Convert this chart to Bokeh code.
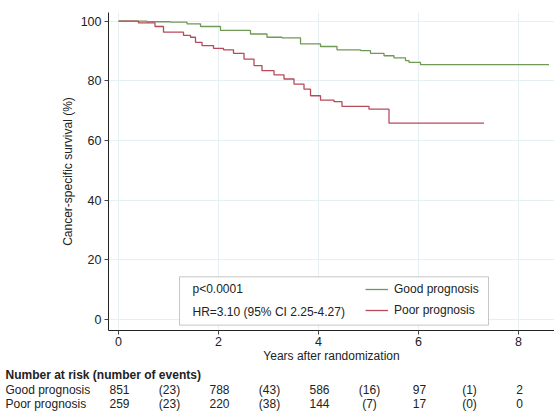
from bokeh.plotting import figure
from bokeh.models import Range1d, FixedTicker, Label, BoxAnnotation, Legend, LegendItem
from bokeh.layouts import column, row
from bokeh.core.properties import value
from bokeh.embed import file_html
from bokeh.resources import INLINE

# ---- data ----
good_t = [0, 0.57, 1.04, 1.37, 1.64, 2.04, 2.64, 2.97, 3.27, 3.64, 4.04, 4.37, 4.84, 5.04, 5.31, 5.51, 5.74, 5.81, 6.04, 8.61]
good_s = [100, 99.8, 99.7, 99.1, 98.2, 96.9, 95.7, 94.6, 94.4, 92.4, 91.5, 90.4, 90.1, 89.2, 88.4, 87.7, 86.8, 86.2, 85.4, 85.4]
poor_t = [0, 0.40, 0.73, 0.90, 1.30, 1.44, 1.54, 1.67, 1.90, 2.10, 2.30, 2.51, 2.71, 2.87, 3.11, 3.31, 3.51, 3.71, 3.84, 4.04, 4.31, 4.47, 5.01, 5.41, 7.31]
poor_s = [100, 99.4, 98.2, 96.3, 95.2, 94.6, 92.9, 91.8, 90.9, 90.4, 89.2, 87.3, 85.1, 83.4, 82.0, 80.6, 78.9, 77.2, 75.0, 73.5, 73.0, 71.4, 70.5, 65.8, 65.8]

x_ticks = [0, 2, 4, 6, 8]
y_ticks = [0, 20, 40, 60, 80, 100]

groups = ["Good prognosis", "Poor prognosis"]
risk_years = [0, 2, 4, 6, 8]
event_years = [1, 3, 5, 7]
good_risk = ["851", "788", "586", "97", "2"]
good_events = ["(23)", "(43)", "(16)", "(1)"]
poor_risk = ["259", "220", "144", "17", "0"]
poor_events = ["(23)", "(38)", "(7)", "(0)"]

p_text = "p<0.0001"
hr_text = "HR=3.10 (95% CI 2.25-4.27)"

GREEN = "#6f9a55"
RED = "#b84a5a"
TXT = "#222222"
FONT = "Liberation Sans"

p = figure(width=554, height=368, output_backend="svg", toolbar_location=None,
           x_range=Range1d(-0.2, 8.72), y_range=Range1d(-3.7, 102.9),
           min_border_left=108, min_border_right=0, min_border_top=12, min_border_bottom=38)
p.outline_line_color = None
p.background_fill_color = "white"
p.border_fill_color = "white"

for ax in (p.xaxis[0], p.yaxis[0]):
    ax.axis_line_color = "#222222"
    ax.major_tick_line_color = "#444444"
    ax.major_tick_in = 0
    ax.major_tick_out = 4
    ax.minor_tick_line_color = None
    ax.major_label_text_font = FONT
    ax.major_label_text_font_size = "12.5px"
    ax.major_label_text_color = TXT
    ax.axis_label_text_font = FONT
    ax.axis_label_text_font_size = "12px"
    ax.axis_label_text_font_style = "normal"
    ax.axis_label_text_color = TXT

p.xaxis.ticker = FixedTicker(ticks=x_ticks)
p.yaxis.ticker = FixedTicker(ticks=y_ticks)
p.xaxis.axis_label = "Years after randomization"
p.yaxis.axis_label = "Cancer-specific survival (%)"
p.xaxis.major_label_standoff = 2
p.xaxis.axis_label_standoff = 0
p.yaxis.major_label_standoff = 3
p.yaxis.axis_label_standoff = 3

p.xgrid.grid_line_color = "#e6f0f2"
p.ygrid.grid_line_color = "#e6f0f2"

r_good = p.step(good_t, good_s, mode="after", line_color=GREEN, line_width=1.3)
r_poor = p.step(poor_t, poor_s, mode="after", line_color=RED, line_width=1.3)

# legend box
box = BoxAnnotation(left=1.22, right=7.4, bottom=-1.9, top=14.3,
                    fill_color="white", fill_alpha=1, line_color="#444444", line_width=1)
p.add_layout(box)

legend = Legend(items=[LegendItem(label=groups[0], renderers=[r_good]),
                       LegendItem(label=groups[1], renderers=[r_poor])],
                location=(257, 10), orientation="vertical",
                border_line_color=None, background_fill_alpha=0,
                padding=0, margin=0, spacing=1,
                label_height=20, glyph_height=20, glyph_width=23, label_standoff=6,
                label_text_font=FONT, label_text_font_size="12px", label_text_color=TXT)
p.add_layout(legend)

p.add_layout(Label(x=1.48, y=100 - (287 - 20.7) / 2.967, text=p_text, text_font=FONT,
                   text_font_size="12px", text_color=TXT, text_baseline="middle"))
p.add_layout(Label(x=1.48, y=100 - (310 - 20.7) / 2.967, text=hr_text, text_font=FONT,
                   text_font_size="12px", text_color=TXT, text_baseline="middle"))

# ---- risk table (second figure, same x scale) ----
t = figure(width=554, height=44, output_backend="svg", toolbar_location=None,
           x_range=Range1d(-118 / 50, 8.72), y_range=Range1d(44, 0),
           x_axis_location=None, y_axis_location=None,
           min_border_left=0, min_border_right=0, min_border_top=0, min_border_bottom=0)
t.grid.visible = False
t.outline_line_color = None
t.border_fill_color = "white"

lab_x = (5 - 118) / 50
t.text(x=[lab_x], y=[6], text=["Number at risk (number of events)"], text_font=value(FONT),
       text_font_size="12px", text_font_style="bold", text_color=TXT, text_baseline="middle")
row_y = [21, 35]
tx, ty, tt = [], [], []
for (risks, events), yy in zip([(good_risk, good_events), (poor_risk, poor_events)], row_y):
    for xv, s in zip(risk_years, risks):
        tx.append(xv + 0.02); ty.append(yy); tt.append(s)
    for xv, s in zip(event_years, events):
        tx.append(xv + 0.02); ty.append(yy); tt.append(s)
t.text(x=[lab_x, lab_x], y=row_y, text=groups, text_font=value(FONT), text_font_size="12px",
       text_color=TXT, text_baseline="middle")
t.text(x=tx, y=ty, text=tt, text_font=value(FONT), text_font_size="12px",
       text_color=TXT, text_baseline="middle", text_align="center")

layout = column(row(p), row(t), spacing=0)
open("out.html", "w").write(file_html(layout, INLINE))
